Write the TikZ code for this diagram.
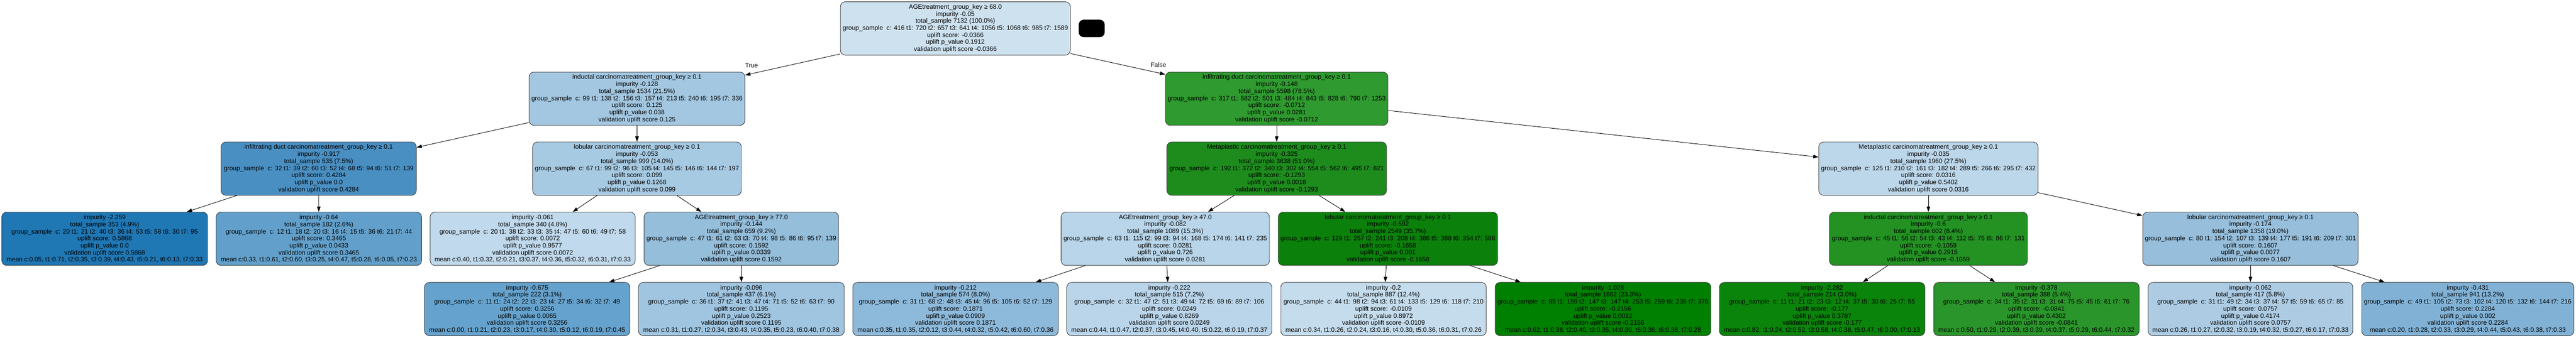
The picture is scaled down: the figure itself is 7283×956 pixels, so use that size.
\documentclass[tikz,border=0pt]{standalone}
\usepackage{fontspec}
\setmainfont{Liberation Sans}
\usetikzlibrary{arrows.meta}
\definecolor{cR}{HTML}{CDE1EF}
\definecolor{cA}{HTML}{A3C7E1}
\definecolor{cB}{HTML}{2F9A2F}
\definecolor{cC}{HTML}{4A8FC2}
\definecolor{cD}{HTML}{A7CAE3}
\definecolor{cE}{HTML}{1D8C1D}
\definecolor{cF}{HTML}{BCD6EA}
\definecolor{cG}{HTML}{1F77B4}
\definecolor{cH}{HTML}{62A0CB}
\definecolor{cI}{HTML}{C0D9EC}
\definecolor{cJ}{HTML}{95BEDB}
\definecolor{cK}{HTML}{B9D5EA}
\definecolor{cL}{HTML}{0B810B}
\definecolor{cM}{HTML}{239223}
\definecolor{cN}{HTML}{97BFDC}
\definecolor{cO}{HTML}{65A2CD}
\definecolor{cP}{HTML}{A0C5E1}
\definecolor{cQ}{HTML}{8DB9DA}
\definecolor{cRR}{HTML}{BAD5EA}
\definecolor{cS}{HTML}{C5DCED}
\definecolor{cT}{HTML}{008000}
\definecolor{cU}{HTML}{0A840A}
\definecolor{cV}{HTML}{2A952A}
\definecolor{cW}{HTML}{ADCCE4}
\definecolor{cX}{HTML}{81B2D6}
\newcommand{\gs}{group\_sample\ \ c:}
\begin{document}
\begin{tikzpicture}[x=1pt,y=-1pt,
  tnode/.style={draw=black!80, line width=1.3pt, rounded corners=14pt, minimum height=151pt,
    inner sep=0pt, align=center, font=\fontsize{18}{20}\selectfont},
  arr/.style={draw=black, line width=1.3pt, -{Triangle[length=15pt,width=10pt]}},
  elabel/.style={font=\fontsize{18}{20}\selectfont, inner sep=0pt}]
\useasboundingbox (0,0) rectangle (7283,956);
\fill[white] (0,0) rectangle (7283,956);
% level 0
\node[tnode, fill=cR, minimum width=650pt] (R) at (2701,80.5) {AGEtreatment\_group\_key ≥ 68.0\\impurity -0.05\\total\_sample 7132 (100.0\%)\\\gs{} 416 t1: 720 t2: 657 t3: 641 t4: 1056 t5: 1068 t6: 985 t7: 1589\\uplift score: -0.0366\\uplift p\_value 0.1912\\validation uplift score -0.0366};
\node[fill=black, draw=black, rounded corners=14pt, minimum width=73pt, minimum height=49pt, inner sep=0pt] (blk) at (3086.5,80.5) {};
% level 1
\node[tnode, fill=cA, minimum width=610pt] (A) at (1801,279.5) {inductal carcinomatreatment\_group\_key ≥ 0.1\\impurity -0.128\\total\_sample 1534 (21.5\%)\\\gs{} 99 t1: 138 t2: 156 t3: 157 t4: 213 t5: 240 t6: 195 t7: 336\\uplift score: 0.125\\uplift p\_value 0.038\\validation uplift score 0.125};
\node[tnode, fill=cB, minimum width=629pt] (B) at (3609.5,279.5) {infiltrating duct carcinomatreatment\_group\_key ≥ 0.1\\impurity -0.148\\total\_sample 5598 (78.5\%)\\\gs{} 317 t1: 582 t2: 501 t3: 484 t4: 843 t5: 828 t6: 790 t7: 1253\\uplift score: -0.0712\\uplift p\_value 0.0281\\validation uplift score -0.0712};
% level 2
\node[tnode, fill=cC, minimum width=552pt] (C) at (901,477.5) {infiltrating duct carcinomatreatment\_group\_key ≥ 0.1\\impurity -0.917\\total\_sample 535 (7.5\%)\\\gs{} 32 t1: 39 t2: 60 t3: 52 t4: 68 t5: 94 t6: 51 t7: 139\\uplift score: 0.4284\\uplift p\_value 0.0\\validation uplift score 0.4284};
\node[tnode, fill=cD, minimum width=590pt] (D) at (1801,477.5) {lobular carcinomatreatment\_group\_key ≥ 0.1\\impurity -0.053\\total\_sample 999 (14.0\%)\\\gs{} 67 t1: 99 t2: 96 t3: 105 t4: 145 t5: 146 t6: 144 t7: 197\\uplift score: 0.099\\uplift p\_value 0.1268\\validation uplift score 0.099};
\node[tnode, fill=cE, minimum width=621pt] (E) at (3609.5,477.5) {Metaplastic carcinomatreatment\_group\_key ≥ 0.1\\impurity -0.325\\total\_sample 3638 (51.0\%)\\\gs{} 192 t1: 372 t2: 340 t3: 302 t4: 554 t5: 562 t6: 495 t7: 821\\uplift score: -0.1293\\uplift p\_value 0.0018\\validation uplift score -0.1293};
\node[tnode, fill=cF, minimum width=620pt] (F) at (5452,477.5) {Metaplastic carcinomatreatment\_group\_key ≥ 0.1\\impurity -0.035\\total\_sample 1960 (27.5\%)\\\gs{} 125 t1: 210 t2: 161 t3: 182 t4: 289 t5: 266 t6: 295 t7: 432\\uplift score: 0.0316\\uplift p\_value 0.5402\\validation uplift score 0.0316};
% level 3
\node[tnode, fill=cG, minimum width=582pt] (G) at (296,676) {impurity -2.259\\total\_sample 353 (4.9\%)\\\gs{} 20 t1: 21 t2: 40 t3: 36 t4: 53 t5: 58 t6: 30 t7: 95\\uplift score: 0.5868\\uplift p\_value 0.0\\validation uplift score 0.5868\\mean c:0.05, t1:0.71, t2:0.35, t3:0.39, t4:0.43, t5:0.21, t6:0.13, t7:0.33};
\node[tnode, fill=cH, minimum width=581pt] (H) at (901.5,676) {impurity -0.64\\total\_sample 182 (2.6\%)\\\gs{} 12 t1: 18 t2: 20 t3: 16 t4: 15 t5: 36 t6: 21 t7: 44\\uplift score: 0.3465\\uplift p\_value 0.0433\\validation uplift score 0.3465\\mean c:0.33, t1:0.61, t2:0.60, t3:0.25, t4:0.47, t5:0.28, t6:0.05, t7:0.23};
\node[tnode, fill=cI, minimum width=580pt] (I) at (1506,676) {impurity -0.061\\total\_sample 340 (4.8\%)\\\gs{} 20 t1: 38 t2: 33 t3: 35 t4: 47 t5: 60 t6: 49 t7: 58\\uplift score: 0.0072\\uplift p\_value 0.9577\\validation uplift score 0.0072\\mean c:0.40, t1:0.32, t2:0.21, t3:0.37, t4:0.36, t5:0.32, t6:0.31, t7:0.33};
\node[tnode, fill=cJ, minimum width=550pt] (J) at (2096,676) {AGEtreatment\_group\_key ≥ 77.0\\impurity -0.144\\total\_sample 659 (9.2\%)\\\gs{} 47 t1: 61 t2: 63 t3: 70 t4: 98 t5: 86 t6: 95 t7: 139\\uplift score: 0.1592\\uplift p\_value 0.0339\\validation uplift score 0.1592};
\node[tnode, fill=cK, minimum width=589pt] (K) at (3294.5,676) {AGEtreatment\_group\_key ≥ 47.0\\impurity -0.082\\total\_sample 1089 (15.3\%)\\\gs{} 63 t1: 115 t2: 99 t3: 94 t4: 168 t5: 174 t6: 141 t7: 235\\uplift score: 0.0281\\uplift p\_value 0.726\\validation uplift score 0.0281};
\node[tnode, fill=cL, minimum width=620pt] (L) at (3924,676) {lobular carcinomatreatment\_group\_key ≥ 0.1\\impurity -0.592\\total\_sample 2549 (35.7\%)\\\gs{} 129 t1: 257 t2: 241 t3: 208 t4: 386 t5: 388 t6: 354 t7: 586\\uplift score: -0.1658\\uplift p\_value 0.001\\validation uplift score -0.1658};
\node[tnode, fill=cM, minimum width=560pt] (M) at (5452,676) {inductal carcinomatreatment\_group\_key ≥ 0.1\\impurity -0.6\\total\_sample 602 (8.4\%)\\\gs{} 45 t1: 56 t2: 54 t3: 43 t4: 112 t5: 75 t6: 86 t7: 131\\uplift score: -0.1059\\uplift p\_value 0.2915\\validation uplift score -0.1059};
\node[tnode, fill=cN, minimum width=609pt] (N) at (6362.5,676) {lobular carcinomatreatment\_group\_key ≥ 0.1\\impurity -0.174\\total\_sample 1358 (19.0\%)\\\gs{} 80 t1: 154 t2: 107 t3: 139 t4: 177 t5: 191 t6: 209 t7: 301\\uplift score: 0.1607\\uplift p\_value 0.0077\\validation uplift score 0.1607};
% level 4
\node[tnode, fill=cO, minimum width=581pt] (O) at (1490.5,875) {impurity -0.675\\total\_sample 222 (3.1\%)\\\gs{} 11 t1: 24 t2: 22 t3: 23 t4: 27 t5: 34 t6: 32 t7: 49\\uplift score: 0.3256\\uplift p\_value 0.0065\\validation uplift score 0.3256\\mean c:0.00, t1:0.21, t2:0.23, t3:0.17, t4:0.30, t5:0.12, t6:0.19, t7:0.45};
\node[tnode, fill=cP, minimum width=582pt] (P) at (2096,875) {impurity -0.096\\total\_sample 437 (6.1\%)\\\gs{} 36 t1: 37 t2: 41 t3: 47 t4: 71 t5: 52 t6: 63 t7: 90\\uplift score: 0.1195\\uplift p\_value 0.2523\\validation uplift score 0.1195\\mean c:0.31, t1:0.27, t2:0.34, t3:0.43, t4:0.35, t5:0.23, t6:0.40, t7:0.38};
\node[tnode, fill=cQ, minimum width=581pt] (Q) at (2701.5,875) {impurity -0.212\\total\_sample 574 (8.0\%)\\\gs{} 31 t1: 68 t2: 48 t3: 45 t4: 96 t5: 105 t6: 52 t7: 129\\uplift score: 0.1871\\uplift p\_value 0.0909\\validation uplift score 0.1871\\mean c:0.35, t1:0.35, t2:0.12, t3:0.44, t4:0.32, t5:0.42, t6:0.60, t7:0.36};
\node[tnode, fill=cRR, minimum width=580pt] (RR) at (3306,875) {impurity -0.222\\total\_sample 515 (7.2\%)\\\gs{} 32 t1: 47 t2: 51 t3: 49 t4: 72 t5: 69 t6: 89 t7: 106\\uplift score: 0.0249\\uplift p\_value 0.8269\\validation uplift score 0.0249\\mean c:0.44, t1:0.47, t2:0.37, t3:0.45, t4:0.40, t5:0.22, t6:0.19, t7:0.37};
\node[tnode, fill=cS, minimum width=581pt] (S) at (3911.5,875) {impurity -0.2\\total\_sample 887 (12.4\%)\\\gs{} 44 t1: 98 t2: 94 t3: 61 t4: 133 t5: 129 t6: 118 t7: 210\\uplift score: -0.0109\\uplift p\_value 0.8972\\validation uplift score -0.0109\\mean c:0.34, t1:0.26, t2:0.24, t3:0.16, t4:0.30, t5:0.36, t6:0.31, t7:0.26};
\node[tnode, fill=cT, minimum width=610pt] (T) at (4532,875) {impurity -1.028\\total\_sample 1662 (23.3\%)\\\gs{} 85 t1: 159 t2: 147 t3: 147 t4: 253 t5: 259 t6: 236 t7: 376\\uplift score: -0.2156\\uplift p\_value 0.0012\\validation uplift score -0.2156\\mean c:0.62, t1:0.38, t2:0.40, t3:0.35, t4:0.30, t5:0.36, t6:0.38, t7:0.28};
\node[tnode, fill=cU, minimum width=581pt] (U) at (5151.5,875) {impurity -2.282\\total\_sample 214 (3.0\%)\\\gs{} 11 t1: 21 t2: 23 t3: 12 t4: 37 t5: 30 t6: 25 t7: 55\\uplift score: -0.177\\uplift p\_value 0.3787\\validation uplift score -0.177\\mean c:0.82, t1:0.24, t2:0.52, t3:0.58, t4:0.38, t5:0.47, t6:0.00, t7:0.13};
\node[tnode, fill=cV, minimum width=581pt] (V) at (5757.5,875) {impurity -0.378\\total\_sample 388 (5.4\%)\\\gs{} 34 t1: 35 t2: 31 t3: 31 t4: 75 t5: 45 t6: 61 t7: 76\\uplift score: -0.0841\\uplift p\_value 0.4302\\validation uplift score -0.0841\\mean c:0.50, t1:0.29, t2:0.39, t3:0.39, t4:0.37, t5:0.29, t6:0.44, t7:0.32};
\node[tnode, fill=cW, minimum width=579pt] (W) at (6362.5,875) {impurity -0.062\\total\_sample 417 (5.8\%)\\\gs{} 31 t1: 49 t2: 34 t3: 37 t4: 57 t5: 59 t6: 65 t7: 85\\uplift score: 0.0757\\uplift p\_value 0.4174\\validation uplift score 0.0757\\mean c:0.26, t1:0.27, t2:0.32, t3:0.19, t4:0.32, t5:0.27, t6:0.17, t7:0.33};
\node[tnode, fill=cX, minimum width=600pt] (X) at (6977,875) {impurity -0.431\\total\_sample 941 (13.2\%)\\\gs{} 49 t1: 105 t2: 73 t3: 102 t4: 120 t5: 132 t6: 144 t7: 216\\uplift score: 0.2284\\uplift p\_value 0.002\\validation uplift score 0.2284\\mean c:0.20, t1:0.28, t2:0.33, t3:0.29, t4:0.44, t5:0.43, t6:0.38, t7:0.33};
% edges
\draw[arr] (R) -- (A);
\draw[arr] (R) -- (B);
\node[elabel] (tl) at (2125,185) {True};
\node[elabel] (fl) at (3275,184) {False};
\draw[arr] (A) -- (C);
\draw[arr] (A) -- (D);
\draw[arr] (B) -- (E);
\draw[arr] (B) -- (F);
\draw[arr] (C) -- (G);
\draw[arr] (C) -- (H);
\draw[arr] (D) -- (I);
\draw[arr] (D) -- (J);
\draw[arr] (E) -- (K);
\draw[arr] (E) -- (L);
\draw[arr] (F) -- (M);
\draw[arr] (F) -- (N);
\draw[arr] (J) -- (O);
\draw[arr] (J) -- (P);
\draw[arr] (K) -- (Q);
\draw[arr] (K) -- (RR);
\draw[arr] (L) -- (S);
\draw[arr] (L) -- (T);
\draw[arr] (M) -- (U);
\draw[arr] (M) -- (V);
\draw[arr] (N) -- (W);
\draw[arr] (N) -- (X);
\end{tikzpicture}
\end{document}
